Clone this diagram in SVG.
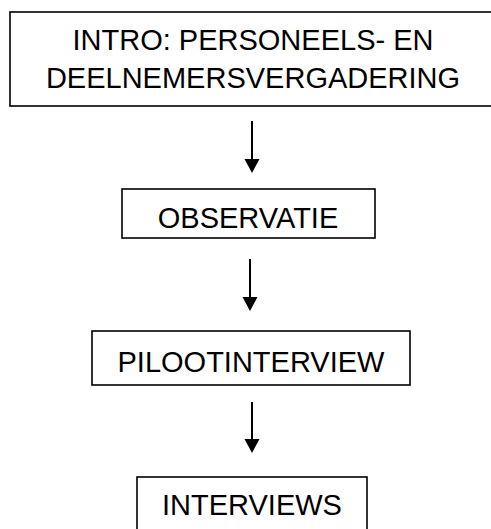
<svg xmlns="http://www.w3.org/2000/svg" width="491" height="529" viewBox="0 0 491 529">
<defs>
<style>
.box{fill:#fff;stroke:#000;stroke-width:1.6}
.t{font-family:"Liberation Sans",Arial,sans-serif;font-size:29px;fill:#000;text-anchor:middle}
.c{stroke:#000;stroke-width:2;fill:none}
</style>
<marker id="ah" viewBox="0 0 15 14" refX="7.5" refY="14" markerWidth="15" markerHeight="14" markerUnits="userSpaceOnUse" orient="auto-start-reverse">
<path d="M0,0 L15,0 L7.5,14 Z" fill="#000"/>
</marker>
</defs>
<rect width="491" height="529" fill="#fff"/>
<g id="n1">
<rect class="box" x="10" y="12" width="495" height="94"/>
<text class="t" x="253" y="50">INTRO: PERSONEELS- EN</text>
<text class="t" x="253" y="88">DEELNEMERSVERGADERING</text>
</g>
<g id="n2">
<rect class="box" x="122" y="189" width="253" height="49"/>
<text class="t" x="248" y="228">OBSERVATIE</text>
</g>
<g id="n3">
<rect class="box" x="92" y="331" width="318" height="54"/>
<text class="t" x="251" y="372">PILOOTINTERVIEW</text>
</g>
<g id="n4">
<rect class="box" x="137" y="477" width="230" height="70"/>
<text class="t" x="252" y="515">INTERVIEWS</text>
</g>
<g id="connectors">
<path class="c" d="M252,121 V160"/>
<path d="M244.5,159 L259.5,159 L252,173 Z" fill="#000"/>
<path class="c" d="M250,259 V298"/>
<path d="M242.5,297 L257.5,297 L250,311 Z" fill="#000"/>
<path class="c" d="M252,402 V440"/>
<path d="M244.5,439 L259.5,439 L252,453 Z" fill="#000"/>
</g>
</svg>
